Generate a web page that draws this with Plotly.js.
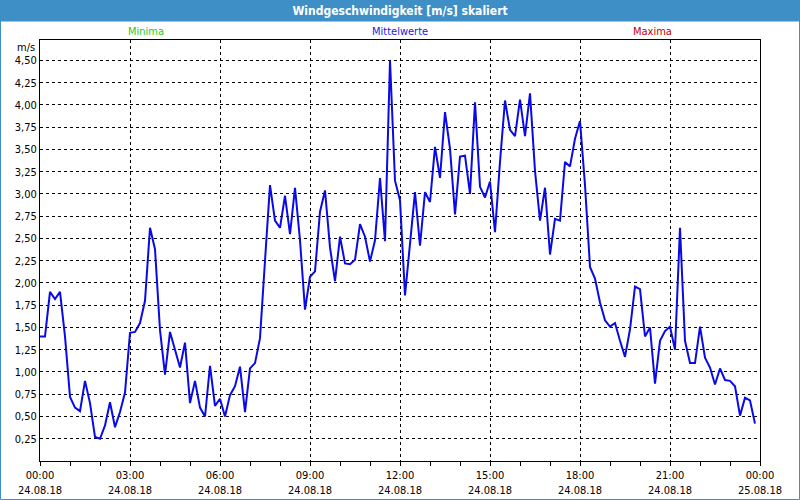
<!DOCTYPE html>
<html>
<head>
<meta charset="utf-8">
<script src="https://cdn.plot.ly/plotly-3.0.1.min.js"></script>
<style>
  html, body { margin: 0; padding: 0; background: #fff; }
  #plot { width: 800px; height: 500px; }
</style>
</head>
<body>
<div id="plot"></div>
<script>
// Mittelwerte, 10-Minuten-Werte ab 24.08.18 00:00
var startTime = "2018-08-24 00:00";
var endTime = "2018-08-25 00:00";
var stepMinutes = 10;

var mittelwerte = [
  1.40, 1.40, 1.90, 1.82, 1.90, 1.40, 0.72, 0.60, 0.56, 0.90,
  0.65, 0.27, 0.25, 0.40, 0.66, 0.38, 0.55, 0.77, 1.44, 1.45,
  1.55, 1.80, 2.62, 2.38, 1.47, 0.97, 1.45, 1.25, 1.05, 1.33,
  0.65, 0.90, 0.60, 0.50, 1.07, 0.62, 0.70, 0.50, 0.74, 0.84,
  1.06, 0.55, 1.04, 1.10, 1.38, 2.25, 3.10, 2.70, 2.62, 2.98,
  2.55, 3.07, 2.48, 1.70, 2.07, 2.13, 2.80, 3.04, 2.40, 2.02,
  2.52, 2.22, 2.21, 2.26, 2.66, 2.52, 2.24, 2.48, 3.18, 2.47,
  4.50, 3.15, 2.93, 1.86, 2.42, 3.02, 2.42, 3.02, 2.91, 3.53,
  3.18, 3.92, 3.51, 2.77, 3.42, 3.43, 3.00, 4.03, 3.08, 2.96,
  3.14, 2.57, 3.36, 4.05, 3.72, 3.65, 4.06, 3.65, 4.13, 3.26,
  2.70, 3.07, 2.32, 2.72, 2.70, 3.36, 3.31, 3.62, 3.82, 3.10,
  2.18, 2.05, 1.78, 1.58, 1.51, 1.55, 1.35, 1.17, 1.48, 1.96,
  1.93, 1.40, 1.50, 0.87, 1.35, 1.46, 1.51, 1.25, 2.62, 1.35,
  1.10, 1.10, 1.51, 1.16, 1.05, 0.86, 1.04, 0.91, 0.90, 0.84,
  0.51, 0.71, 0.68, 0.42
];

var legendLabels = ["Minima", "Mittelwerte", "Maxima"];
var legendColors = ["#22cc22", "#2020dd", "#c00000"];

// Zeitachse
var times = [];
var t0 = new Date(startTime.replace(" ", "T") + ":00Z").getTime();
for (var i = 0; i < mittelwerte.length; i++) {
  var d = new Date(t0 + i * stepMinutes * 60000);
  times.push(d.toISOString().slice(0, 16).replace("T", " "));
}

var fontFam = "Tahoma, 'DejaVu Sans Condensed', 'Liberation Sans', sans-serif";
var blue = "#3d8fc6";

var trace = {
  x: times,
  y: mittelwerte,
  type: "scatter",
  mode: "lines",
  line: { color: "#0a0ae6", width: 2 },
  hoverinfo: "x+y"
};

// Pixel -> Papierkoordinaten (Plotfläche 40..760 / 40..461)
var L = 40, T = 40, W = 720, H = 421;
function px(x) { return (x - L) / W; }
function py(y) { return (T + H - y) / H; }

var annotations = legendLabels.map(function (lab, k) {
  var xs = [146, 400, 652];
  return {
    text: lab, xref: "paper", yref: "paper",
    x: px(xs[k]), y: py(32), xanchor: "center", yanchor: "middle",
    showarrow: false, font: { family: fontFam, size: 11, color: legendColors[k] }
  };
});
annotations.push({
  text: "m/s", xref: "paper", yref: "paper",
  x: px(37), y: py(47), xanchor: "right", yanchor: "middle",
  showarrow: false, font: { family: fontFam, size: 11, color: "#000" }
});

var layout = {
  width: 800,
  height: 500,
  margin: { l: 40, r: 40, t: 40, b: 39, pad: 0 },
  paper_bgcolor: "#fff",
  plot_bgcolor: "#fff",
  separators: ",.",
  showlegend: false,
  font: { family: fontFam, size: 11, color: "#000" },
  title: {
    text: "Windgeschwindigkeit [m/s] skaliert",
    x: 0.5, xref: "paper", xanchor: "center",
    y: 1 - 11 / 500, yref: "container", yanchor: "middle",
    font: { family: fontFam, size: 12, color: "#fff", weight: "bold" }
  },
  xaxis: {
    type: "date",
    range: [startTime, endTime],
    dtick: 3 * 3600000,
    tick0: startTime,
    tickformat: "%H:%M<br>%d.%m.%y",
    ticks: "outside",
    ticklen: 4,
    tickcolor: "#000",
    minor: { dtick: 3600000, ticks: "outside", ticklen: 4, tickcolor: "#000", showgrid: false },
    showgrid: true,
    gridcolor: "#000",
    griddash: "3px,3px",
    gridwidth: 1,
    showline: true,
    linecolor: "#000",
    linewidth: 1,
    mirror: true,
    zeroline: false,
    fixedrange: true
  },
  yaxis: {
    range: [0, 4.73],
    ticks: "",
    showgrid: true,
    gridcolor: "#000",
    griddash: "3px,3px",
    gridwidth: 1,
    showline: true,
    linecolor: "#000",
    linewidth: 1,
    mirror: true,
    zeroline: false,
    fixedrange: true
  },
  annotations: annotations,
  shapes: [
    // Titelleiste
    { type: "rect", xref: "paper", yref: "paper", layer: "below",
      x0: px(0), x1: px(800), y0: py(21), y1: py(0),
      fillcolor: blue, line: { width: 0 } },
    // Rahmen
    { type: "rect", xref: "paper", yref: "paper", layer: "below",
      x0: px(0.5), x1: px(799.5), y0: py(499.5), y1: py(21),
      fillcolor: "rgba(0,0,0,0)", line: { color: blue, width: 1 } }
  ]
};

// Nur die Y-Ticks ab 0,25 beschriften
var yVals = [], yText = [];
for (var v = 1; v <= 18; v++) {
  yVals.push(v * 0.25);
  yText.push((v * 0.25).toFixed(2).replace(".", ","));
}
layout.yaxis.tickmode = "array";
layout.yaxis.tickvals = yVals;
layout.yaxis.ticktext = yText;

Plotly.newPlot("plot", [trace], layout, { displayModeBar: false, staticPlot: true });
</script>
</body>
</html>
